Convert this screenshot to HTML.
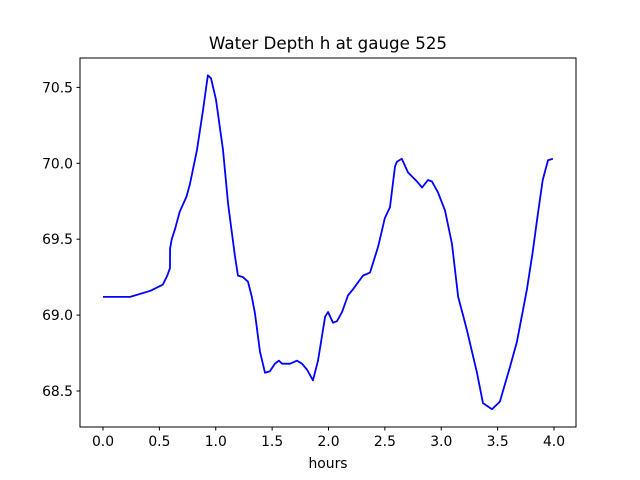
<!DOCTYPE html>
<html><head><meta charset="utf-8"><style>
body{margin:0;background:#fff;}
svg{display:block;font-family:"DejaVu Sans","Liberation Sans",sans-serif;}
</style></head><body>
<svg id="chart" width="640" height="480" viewBox="0 0 640 480">
<rect x="0" y="0" width="640" height="480" fill="#fff"/>
<text x="328" y="49" text-anchor="middle" font-size="16.7" fill="#000">Water Depth h at gauge 525</text>
<g id="xticks"></g><g id="yticks"></g>
<polyline id="series" fill="none" stroke="#0000ff" stroke-width="1.8" stroke-linejoin="round"/>
<rect x="80" y="58" width="496" height="369" fill="none" stroke="#000" stroke-width="1"/>
<text x="328" y="468" text-anchor="middle" font-size="13.9" fill="#000">hours</text>
</svg>
<script>
const hours=[0,0.24,0.42,0.53,0.57,0.594,0.595,0.61,0.64,0.68,0.74,0.77,0.834,0.887,0.93,0.958,1.002,1.064,1.11,1.17,1.197,1.242,1.286,1.32,1.348,1.392,1.437,1.48,1.525,1.56,1.588,1.66,1.72,1.765,1.81,1.862,1.907,1.97,1.996,2.04,2.075,2.12,2.173,2.217,2.306,2.368,2.44,2.50,2.545,2.59,2.607,2.65,2.705,2.785,2.83,2.882,2.918,2.97,3.033,3.095,3.15,3.193,3.228,3.317,3.37,3.45,3.52,3.61,3.67,3.76,3.81,3.85,3.90,3.947,3.99];
const depths=[69.12,69.12,69.16,69.20,69.26,69.31,69.44,69.50,69.57,69.68,69.78,69.86,70.09,70.35,70.58,70.56,70.42,70.09,69.73,69.39,69.26,69.25,69.22,69.12,69.01,68.76,68.62,68.63,68.68,68.70,68.68,68.68,68.70,68.68,68.64,68.57,68.70,68.99,69.02,68.95,68.96,69.02,69.13,69.17,69.26,69.28,69.45,69.64,69.71,69.98,70.01,70.03,69.94,69.88,69.84,69.89,69.88,69.81,69.69,69.47,69.12,69.00,68.90,68.62,68.42,68.38,68.43,68.66,68.82,69.17,69.41,69.63,69.89,70.02,70.03];
const xTickLabels=["0.0","0.5","1.0","1.5","2.0","2.5","3.0","3.5","4.0"];
const yTickLabels=["68.5","69.0","69.5","70.0","70.5"];
const NS="http://www.w3.org/2000/svg";
function xs(h){return 103+(h-0)*112.75;}
function ys(v){return 163.3+(70-v)*151.8;}
const line=document.getElementById('series');
line.setAttribute('points',hours.map((h,i)=>xs(h).toFixed(2)+','+ys(depths[i]).toFixed(2)).join(' '));
const xg=document.getElementById('xticks');
xTickLabels.forEach(l=>{
  const x=xs(parseFloat(l));
  const t=document.createElementNS(NS,'line');
  t.setAttribute('x1',x);t.setAttribute('x2',x);t.setAttribute('y1',427);t.setAttribute('y2',430.5);t.setAttribute('stroke','#000');
  
  
  xg.appendChild(t);
  const tx=document.createElementNS(NS,'text');
  tx.setAttribute('x',x);tx.setAttribute('y',446);tx.setAttribute('text-anchor','middle');tx.setAttribute('font-size','13.9');
  tx.textContent=l;
  
  
  xg.appendChild(tx);
});
const yg=document.getElementById('yticks');
yTickLabels.forEach(l=>{
  const y=ys(parseFloat(l));
  const t=document.createElementNS(NS,'line');
  t.setAttribute('x1',76.5);t.setAttribute('x2',80);t.setAttribute('y1',y);t.setAttribute('y2',y);t.setAttribute('stroke','#000');
  
  
  yg.appendChild(t);
  const tx=document.createElementNS(NS,'text');
  tx.setAttribute('x',73);tx.setAttribute('y',y+5);tx.setAttribute('text-anchor','end');tx.setAttribute('font-size','13.9');
  tx.textContent=l;
  
  
  yg.appendChild(tx);
});
</script>
</body></html>
